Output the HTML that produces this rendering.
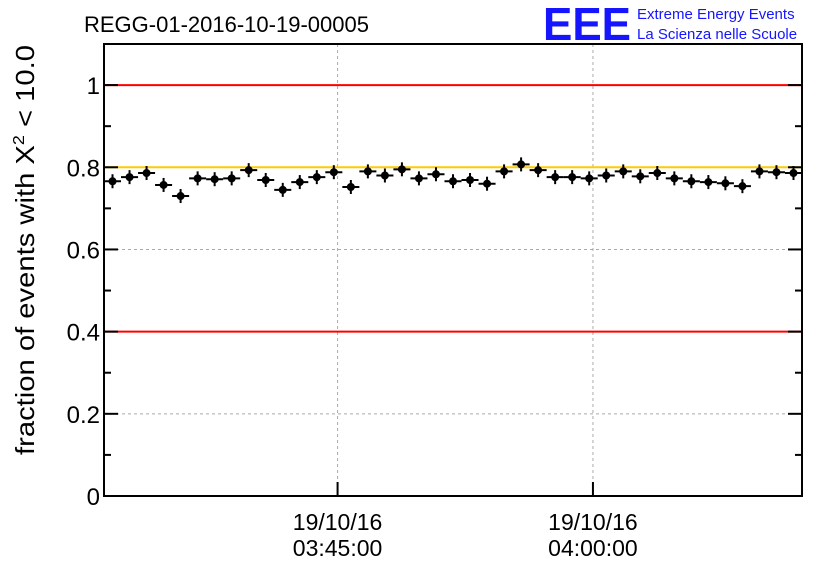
<!DOCTYPE html>
<html><head><meta charset="utf-8"><style>
body{margin:0;background:#fff;}
svg text{font-family:"Liberation Sans",sans-serif;}
</style></head><body>
<svg id="c" width="836" height="572" xmlns="http://www.w3.org/2000/svg">
<text x="84" y="32" font-size="22">REGG-01-2016-10-19-00005</text>
<text x="543" y="40" font-size="46" font-weight="bold" fill="#1515ff" textLength="88" lengthAdjust="spacingAndGlyphs">EEE</text>
<text x="637" y="19" font-size="15" fill="#1515ff">Extreme Energy Events</text>
<text x="637" y="39" font-size="15" fill="#1515ff">La Scienza nelle Scuole</text>
<text transform="translate(34,250) rotate(-90)" font-size="26" text-anchor="middle" textLength="410" lengthAdjust="spacingAndGlyphs">fraction of events with X<tspan dy="-10" font-size="16">2</tspan><tspan dy="10"> &lt; 10.0</tspan></text>
<g id="plot"></g>
</svg>
<script>
const values=[0.766,0.776,0.786,0.757,0.730,0.773,0.771,0.773,0.793,0.769,0.745,0.764,0.776,0.788,0.752,0.790,0.780,0.795,0.773,0.783,0.766,0.769,0.760,0.790,0.807,0.793,0.776,0.776,0.773,0.780,0.790,0.778,0.786,0.773,0.766,0.764,0.761,0.754,0.790,0.788,0.786];
const yTicks=[0,0.2,0.4,0.6,0.8,1];
const yTickLabels=["0","0.2","0.4","0.6","0.8","1"];
const xTickMinutes=[13.72,28.72];
const xTickLabels=[["19/10/16","03:45:00"],["19/10/16","04:00:00"]];
const refLines=[{v:1,c:"#ff0000"},{v:0.8,c:"#ffcc00"},{v:0.4,c:"#ff0000"}];
const L=104,R=802,T=44,B=496,ymax=1.1;
const n=values.length;
const X=m=>L+(R-L)*m/n;
const Y=v=>B-(B-T)*v/ymax;
const g=document.getElementById('plot');
const NS="http://www.w3.org/2000/svg";
function mk(t,a){const e=document.createElementNS(NS,t);for(const k in a)e.setAttribute(k,a[k]);g.appendChild(e);return e;}
yTicks.forEach((v,i)=>{if(v>0&&v<1.05){const e=mk('line',{x1:L,x2:R,y1:Y(v),y2:Y(v),stroke:'#aaa','stroke-dasharray':'3,3'});

}});
xTickMinutes.forEach(m=>{const e=mk('line',{x1:X(m),x2:X(m),y1:T,y2:B,stroke:'#aaa','stroke-dasharray':'3,3'});

});
refLines.forEach(r=>{const e=mk('line',{x1:L,x2:R,y1:Y(r.v),y2:Y(r.v),stroke:r.c,'stroke-width':2});

});
const f=mk('rect',{x:L,y:T,width:R-L,height:B-T,fill:'none',stroke:'#000','stroke-width':2});


yTicks.forEach((v,i)=>{mk('line',{x1:L,x2:L+14,y1:Y(v),y2:Y(v),stroke:'#000','stroke-width':2});mk('line',{x1:R,x2:R-14,y1:Y(v),y2:Y(v),stroke:'#000','stroke-width':2});
const t=mk('text',{x:L-4,y:Y(v)+9,'font-size':24,'text-anchor':'end'});t.textContent=yTickLabels[i];


if(i<yTicks.length-1){const mv=(v+yTicks[i+1])/2;mk('line',{x1:L,x2:L+7,y1:Y(mv),y2:Y(mv),stroke:'#000','stroke-width':2});mk('line',{x1:R,x2:R-7,y1:Y(mv),y2:Y(mv),stroke:'#000','stroke-width':2});}});
xTickMinutes.forEach((m,i)=>{mk('line',{x1:X(m),x2:X(m),y1:B,y2:B-14,stroke:'#000','stroke-width':2});
const t=mk('text',{x:X(m),y:B+34,'font-size':23,'text-anchor':'middle'});t.textContent=xTickLabels[i][0];


const t2=mk('text',{x:X(m),y:B+60,'font-size':23,'text-anchor':'middle'});t2.textContent=xTickLabels[i][1];

});
values.forEach((v,i)=>{const cx=X(i+0.5),cy=Y(v);
const h=mk('line',{x1:X(i),x2:X(i+1),y1:cy,y2:cy,stroke:'#000','stroke-width':2});


const vl=mk('line',{x1:cx,x2:cx,y1:cy-7,y2:cy+7,stroke:'#000','stroke-width':2});


const p=mk('circle',{cx:cx,cy:cy,r:4,fill:'#000'});

});
</script>
</body></html>
